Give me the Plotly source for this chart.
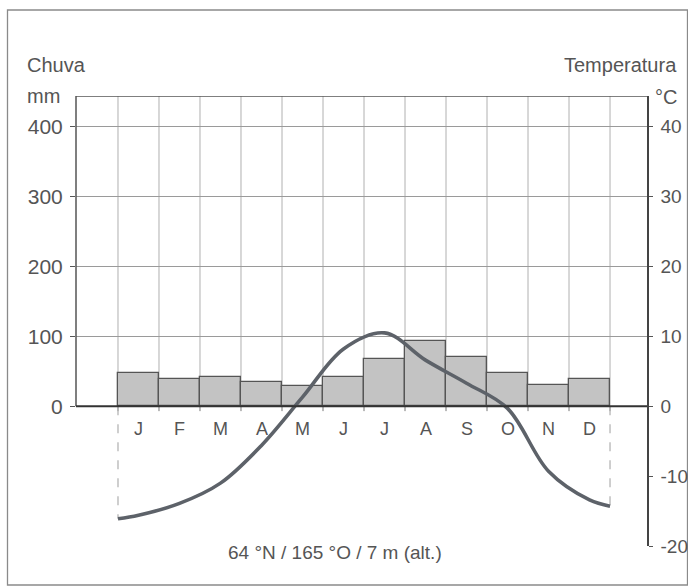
import plotly.graph_objects as go

months = ["J", "F", "M", "A", "M", "J", "J", "A", "S", "O", "N", "D"]
rain_mm = [47, 39, 42, 34, 29, 42, 68, 93, 70, 48, 30, 39]
temp_c = [-15.6, -13.9, -11.0, -5.6, 1.3, 8.2, 10.5, 6.6, 3.3, -0.3, -9.3, -13.4]
temp_start = -16.1   # curve value at the start of January
temp_end = -14.3     # curve value at the end of December
rain_ticks = [0, 100, 200, 300, 400]
temp_ticks = [-20, -10, 0, 10, 20, 30, 40]
footer = "64 °N / 165 °O / 7 m (alt.)"

W, H = 688, 587
ML, MR, MT, MB = 76, 41, 96, 41
FONT = "Liberation Sans, Arial, sans-serif"
TXT = "#555555"

n = len(months)
centers = [i + 0.5 for i in range(n)]
xr = [-1.024, 12.902]
yr = [-200, 444]
yr2 = [yr[0] / 10, yr[1] / 10]

def px_to_paper_x(p):
    return (p - ML) / (W - ML - MR)

def px_to_paper_y(p):
    return (H - MB - p) / (H - MT - MB)

fig = go.Figure()

fig.add_trace(go.Bar(
    x=centers, y=rain_mm, width=1.0,
    marker=dict(color="#c3c3c3", line=dict(color="#555555", width=1.3)),
    yaxis="y", showlegend=False, hoverinfo="skip"))

fig.add_trace(go.Scatter(
    x=[0] + centers + [n], y=[temp_start] + temp_c + [temp_end],
    mode="lines", line=dict(color="#5d6269", width=3.6, shape="spline", smoothing=1.0),
    yaxis="y2", showlegend=False, hoverinfo="skip"))

shapes = []
# vertical grid lines at month boundaries
for b in range(0, n + 1):
    shapes.append(dict(type="line", xref="x", yref="y", x0=b, x1=b, y0=0, y1=yr[1],
                       line=dict(color="#b0b0b0", width=1), layer="below"))
    shapes.append(dict(type="line", xref="x", yref="y", x0=b, x1=b, y0=0, y1=-7,
                       line=dict(color="#777777", width=1), layer="below"))
# dashed lines at the ends of the year
shapes.append(dict(type="line", xref="x", yref="y2", x0=0, x1=0, y0=0, y1=temp_start,
                   line=dict(color="#b5b5b5", width=1.3, dash="dash"), layer="below"))
shapes.append(dict(type="line", xref="x", yref="y2", x0=n, x1=n, y0=0, y1=temp_end,
                   line=dict(color="#b5b5b5", width=1.3, dash="dash"), layer="below"))
# frame: top, left
shapes.append(dict(type="line", xref="paper", yref="y", x0=0, x1=1, y0=yr[1], y1=yr[1],
                   line=dict(color="#555555", width=1.5)))
shapes.append(dict(type="line", xref="paper", yref="y", x0=0, x1=0, y0=0, y1=yr[1],
                   line=dict(color="#555555", width=1.5)))
# zero line
shapes.append(dict(type="line", xref="paper", yref="y", x0=0, x1=1, y0=0, y1=0,
                   line=dict(color="#333333", width=2.2)))
# outer picture border
shapes.append(dict(type="rect", xref="paper", yref="paper",
                   x0=px_to_paper_x(7.5), x1=px_to_paper_x(687.5),
                   y0=px_to_paper_y(585), y1=px_to_paper_y(10),
                   line=dict(color="#8a8a8a", width=1.3), fillcolor="rgba(0,0,0,0)", layer="below"))

annotations = []
for c, m in zip(centers, months):
    annotations.append(dict(x=c, y=-32, xref="x", yref="y", text=m, showarrow=False,
                            font=dict(family=FONT, size=18, color=TXT)))
annotations += [
    dict(x=px_to_paper_x(25), y=px_to_paper_y(65), xref="paper", yref="paper", text="Chuva",
         showarrow=False, xanchor="left", yanchor="middle", font=dict(family=FONT, size=20, color=TXT)),
    dict(x=px_to_paper_x(25), y=px_to_paper_y(96), xref="paper", yref="paper", text="mm",
         showarrow=False, xanchor="left", yanchor="middle", font=dict(family=FONT, size=20, color=TXT)),
    dict(x=px_to_paper_x(679), y=px_to_paper_y(65), xref="paper", yref="paper", text="Temperatura",
         showarrow=False, xanchor="right", yanchor="middle", font=dict(family=FONT, size=20, color=TXT)),
    dict(x=px_to_paper_x(679), y=px_to_paper_y(97), xref="paper", yref="paper", text="°C",
         showarrow=False, xanchor="right", yanchor="middle", font=dict(family=FONT, size=20, color=TXT)),
    dict(x=px_to_paper_x(335), y=px_to_paper_y(552), xref="paper", yref="paper", text=footer,
         showarrow=False, xanchor="center", yanchor="middle", font=dict(family=FONT, size=19, color=TXT)),
]

fig.update_layout(
    width=W, height=H, autosize=False,
    margin=dict(l=ML, r=MR, t=MT, b=MB, pad=0, autoexpand=False),
    paper_bgcolor="white", plot_bgcolor="rgba(0,0,0,0)",
    bargap=0,
    xaxis=dict(range=xr, showgrid=False, zeroline=False, showticklabels=False,
               ticks="", showline=False, fixedrange=True, automargin=False),
    yaxis=dict(range=yr, tickvals=rain_ticks, ticktext=[str(v) for v in rain_ticks],
               showgrid=True, gridcolor="#9a9a9a", gridwidth=1, zeroline=False,
               ticks="outside", ticklen=5, tickcolor="#555555", ticklabelstandoff=3,
               showline=False, automargin=False,
               tickfont=dict(family=FONT, size=21, color=TXT)),
    yaxis2=dict(range=yr2, overlaying="y", side="right", tickvals=temp_ticks,
                ticktext=[str(v) for v in temp_ticks], showgrid=False, zeroline=False,
                showline=True, linecolor="#444444", linewidth=1.5, automargin=False,
                ticks="outside", ticklen=4, tickcolor="#555555", ticklabelstandoff=4,
                tickfont=dict(family=FONT, size=19, color=TXT)),
    shapes=shapes, annotations=annotations,
)

fig.write_html("out.html", config={"displayModeBar": False},
               post_script="document.body.style.margin='0';document.body.style.overflow='hidden';")
